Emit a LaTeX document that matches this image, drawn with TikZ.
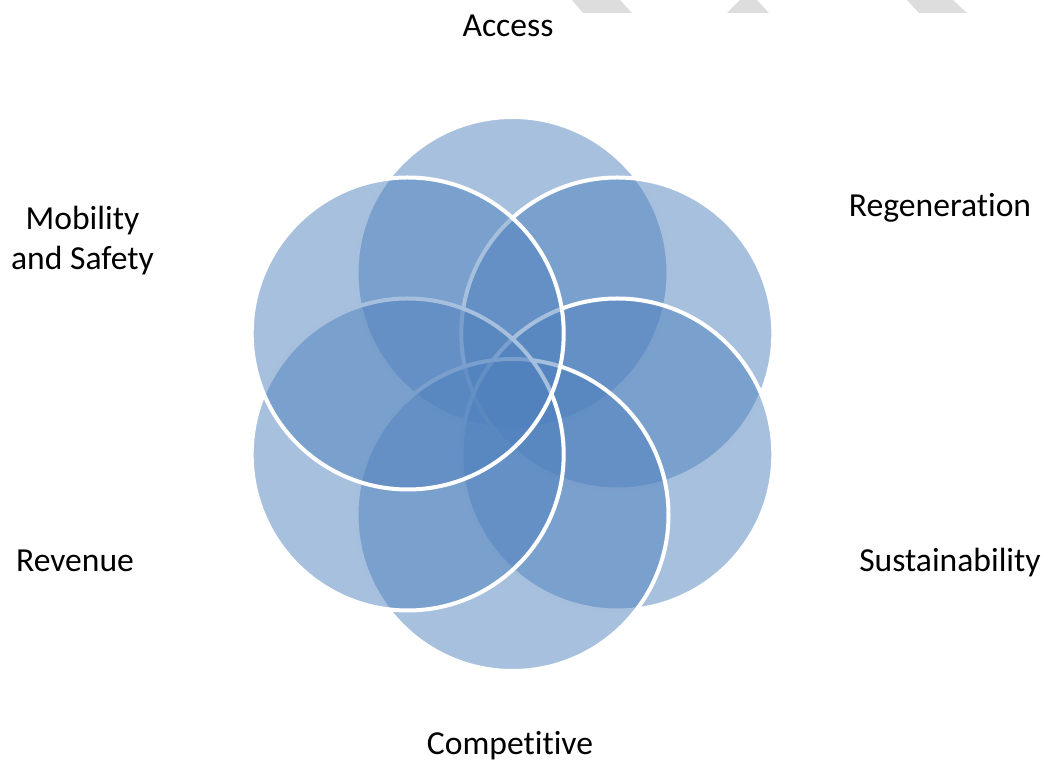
\documentclass[tikz,border=0pt]{standalone}
\usepackage{fontspec}
\setmainfont{Carlito}[Ligatures=CommonOff]

\definecolor{petalblue}{HTML}{4F81BD}
\definecolor{markgray}{HTML}{DDDDDD}

\begin{document}
\begin{tikzpicture}[x=0.5pt, y=-0.5pt]
\useasboundingbox (0,0) rectangle (1046,763);
\fill[markgray] (572,0) -- (620,0) -- (632,13) -- (583,13) -- cycle;
\fill[markgray] (740,0) -- (757,0) -- (769,13) -- (727,13) -- cycle;
\fill[markgray] (907,0) -- (953,0) -- (967,13) -- (919,13) -- cycle;
\coordinate (hub) at (512.5,394);
\node[
  circle, inner sep=0pt, minimum size=156pt,
  fill=petalblue, fill opacity=0.5,
  draw=white, line width=2pt] (access) at ([yshift=60.5pt]hub) {};
\node[
  circle, inner sep=0pt, minimum size=156pt,
  fill=petalblue, fill opacity=0.5,
  draw=white, line width=2pt] (regeneration) at ([xshift=52.4pt, yshift=30.25pt]hub) {};
\node[
  circle, inner sep=0pt, minimum size=156pt,
  fill=petalblue, fill opacity=0.5,
  draw=white, line width=2pt] (sustainability) at ([xshift=52.4pt, yshift=-30.25pt]hub) {};
\node[
  circle, inner sep=0pt, minimum size=156pt,
  fill=petalblue, fill opacity=0.5,
  draw=white, line width=2pt] (competitive) at ([yshift=-60.5pt]hub) {};
\node[
  circle, inner sep=0pt, minimum size=156pt,
  fill=petalblue, fill opacity=0.5,
  draw=white, line width=2pt] (revenue) at ([xshift=-52.4pt, yshift=-30.25pt]hub) {};
\node[
  circle, inner sep=0pt, minimum size=156pt,
  fill=petalblue, fill opacity=0.5,
  draw=white, line width=2pt] (mobility) at ([xshift=-52.4pt, yshift=30.25pt]hub) {};
\node[anchor=base, font=\fontsize{16.8}{20}\selectfont] (accesstxt) at (508,37) {Access};
\node[anchor=base, font=\fontsize{16.8}{20}\selectfont] (regentxt) at (940,217) {Regeneration};
\node[anchor=base, font=\fontsize{16.8}{20}\selectfont] (sustaintxt) at (950,572) {Sustainability};
\node[anchor=base, font=\fontsize{16.8}{20}\selectfont] (competetxt) at (510,755) {Competitive};
\node[anchor=base, font=\fontsize{16.8}{20}\selectfont] (revenuetxt) at (75,572) {Revenue};
\node[anchor=base, align=center, font=\fontsize{16.8}{20}\selectfont] (mobilitytxt) at (82.5,270) {Mobility\\and Safety};
\end{tikzpicture}
\end{document}
